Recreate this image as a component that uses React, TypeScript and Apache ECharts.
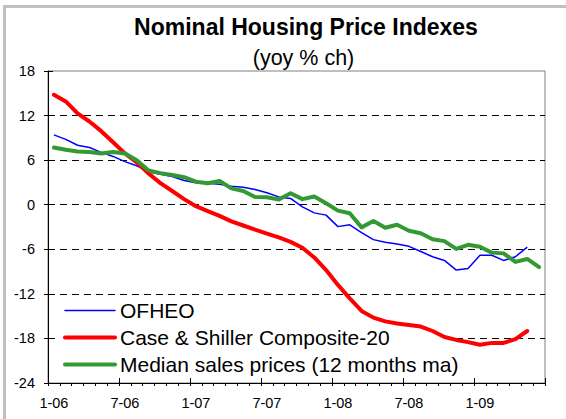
import React, { useEffect, useRef } from "react";
import * as echarts from "echarts";

const categories = [
  "1-06", "2-06", "3-06", "4-06", "5-06", "6-06", "7-06", "8-06", "9-06", "10-06", "11-06", "12-06",
  "1-07", "2-07", "3-07", "4-07", "5-07", "6-07", "7-07", "8-07", "9-07", "10-07", "11-07", "12-07",
  "1-08", "2-08", "3-08", "4-08", "5-08", "6-08", "7-08", "8-08", "9-08", "10-08", "11-08", "12-08",
  "1-09", "2-09", "3-09", "4-09", "5-09", "6-09",
];

const ofheo = [
  9.4, 8.8, 8.0, 7.7, 7.05, 6.5, 5.8, 5.25, 4.45, 4.1, 3.8, 3.25,
  2.95, 2.9, 2.75, 2.5, 2.35, 2.05, 1.6, 1.05, 0.85, -0.3, -1.1, -1.4,
  -2.95, -2.7, -3.75, -4.7, -5.05, -5.3, -5.6, -6.3, -7.0, -7.5, -8.8, -8.6,
  -6.8, -6.8, -7.5, -7.0, -5.7,
];

const caseShiller = [
  14.8, 13.9, 12.3, 11.2, 9.9, 8.4, 6.9, 5.7, 4.2, 2.9, 1.85, 0.75,
  -0.2, -0.85, -1.5, -2.25, -2.8, -3.35, -3.9, -4.4, -5.0, -5.8, -7.1, -8.8,
  -10.8, -12.6, -14.3, -15.2, -15.7, -16.0, -16.2, -16.4, -17.0, -17.8, -18.2, -18.5,
  -18.85, -18.6, -18.6, -18.1, -17.0,
];

const medianSales = [
  7.7, 7.4, 7.15, 7.1, 6.9, 7.1, 6.9, 6.0, 4.6, 4.25, 4.0, 3.7,
  3.1, 2.9, 3.2, 2.2, 1.85, 1.05, 1.0, 0.7, 1.55, 0.75, 1.1, 0.2,
  -0.8, -1.15, -3.05, -2.2, -3.1, -2.7, -3.5, -3.85, -4.65, -4.9, -5.95, -5.4,
  -5.65, -6.45, -6.55, -7.7, -7.3, -8.4,
];

const seriesNames = [
  "OFHEO",
  "Case & Shiller Composite-20",
  "Median sales prices (12 months ma)",
];

const titleText = "Nominal Housing Price Indexes";
const subtitleText = "(yoy % ch)";

const FONT = "'Liberation Sans', Arial, Helvetica, sans-serif";

export default function App() {
  const ref = useRef<HTMLDivElement>(null);

  useEffect(() => {
    if (!ref.current) return;
    const chart = echarts.init(ref.current, null, { renderer: "svg" });
    chart.setOption({
      animation: false,
      backgroundColor: "#ffffff",
      textStyle: { fontFamily: FONT },
      grid: {
        left: 48,
        top: 71,
        right: 21,
        bottom: 36,
        show: true,
        borderColor: "#808080",
        borderWidth: 1,
        backgroundColor: "transparent",
      },
      xAxis: [
        {
          type: "category",
          data: categories,
          boundaryGap: true,
          axisLine: { onZero: false, lineStyle: { color: "#000", width: 1 } },
          axisTick: { show: true, interval: 0, length: 3, lineStyle: { color: "#000" } },
          axisLabel: { interval: 5, color: "#000", fontSize: 14.5, margin: 12, fontFamily: FONT },
          splitLine: { show: false },
        },
        {
          type: "category",
          data: categories,
          boundaryGap: true,
          position: "bottom",
          axisLine: { show: false, onZero: false },
          axisTick: { show: true, inside: true, interval: 5, length: 5, lineStyle: { color: "#000" } },
          axisLabel: { show: false },
          splitLine: { show: false },
        },
      ],
      yAxis: [
        {
          type: "value",
          min: -24,
          max: 18,
          interval: 6,
          axisLine: { show: true, onZero: false, lineStyle: { color: "#000", width: 1 } },
          axisTick: { show: true, length: 4, lineStyle: { color: "#000" } },
          axisLabel: { color: "#000", fontSize: 14.5, margin: 13, fontFamily: FONT },
          splitLine: {
            show: true,
            showMinLine: false,
            showMaxLine: false,
            lineStyle: { color: "#000", width: 1, type: [7, 5] },
          },
        },
        {
          type: "value",
          min: -24,
          max: 18,
          interval: 6,
          position: "left",
          axisLine: { show: false, onZero: false },
          axisTick: { show: true, inside: true, length: 5, lineStyle: { color: "#000" } },
          axisLabel: { show: false },
          splitLine: { show: false },
        },
      ],
      legend: {
        orient: "vertical",
        left: 63,
        top: 297,
        padding: 0,
        itemGap: 0,
        itemWidth: 50,
        itemHeight: 14,
        itemStyle: { color: "rgba(0,0,0,0)", borderWidth: 0, opacity: 0 },
        lineStyle: { width: "inherit", cap: "round" },
        textStyle: { fontSize: 21, color: "#000", lineHeight: 27, fontFamily: FONT },
        data: seriesNames,
      },
      graphic: [
        {
          type: "rect",
          silent: true,
          shape: { x: 4.5, y: 6.5, width: 620, height: 480 },
          style: { fill: "none", stroke: "#c0c0c0", lineWidth: 3 },
        },
        {
          type: "rect",
          silent: true,
          z: 1,
          shape: { x: 56, y: 335, width: 395, height: 7 },
          style: { fill: "#ffffff" },
        },
        {
          type: "text",
          x: 306,
          y: 26.5,
          style: {
            text: titleText,
            fontSize: 23,
            fontWeight: "bold",
            fontFamily: FONT,
            fill: "#000",
            textAlign: "center",
            textVerticalAlign: "middle",
          },
        },
        {
          type: "text",
          x: 303.5,
          y: 57.5,
          style: {
            text: subtitleText,
            fontSize: 21.5,
            fontFamily: FONT,
            fill: "#000",
            textAlign: "center",
            textVerticalAlign: "middle",
          },
        },
      ],
      series: [
        {
          name: seriesNames[0],
          type: "line",
          data: ofheo,
          symbol: "none",
          z: 2,
          lineStyle: { color: "#0000ff", width: 1.5 },
          itemStyle: { color: "#0000ff" },
        },
        {
          name: seriesNames[1],
          type: "line",
          data: caseShiller,
          symbol: "none",
          z: 3,
          lineStyle: { color: "#ff0000", width: 4, cap: "round", join: "round" },
          itemStyle: { color: "#ff0000" },
        },
        {
          name: seriesNames[2],
          type: "line",
          data: medianSales,
          symbol: "none",
          z: 4,
          lineStyle: { color: "#339933", width: 4, cap: "round", join: "round" },
          itemStyle: { color: "#339933" },
        },
      ],
    });
    return () => chart.dispose();
  }, []);

  return (
    <div
      ref={ref}
      style={{ position: "fixed", left: 0, top: 0, width: 566, height: 419, background: "#fff" }}
    />
  );
}
